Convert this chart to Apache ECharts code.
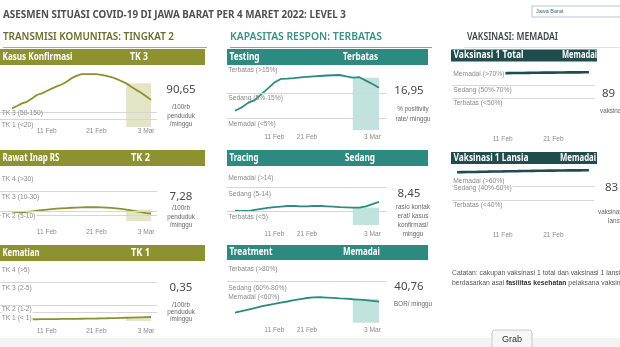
<!DOCTYPE html>
<html><head><meta charset="utf-8">
<script src="https://cdn.jsdelivr.net/npm/echarts@6/dist/echarts.min.js"></script>
<style>html,body{margin:0;padding:0;background:#fff}#c{width:620px;height:347px}</style>
</head><body><div id="c"></div>
<script>
// ================= DATA =================
const datesLeft = ['4 Feb','5 Feb','6 Feb','7 Feb','8 Feb','9 Feb','10 Feb','11 Feb','12 Feb','13 Feb','14 Feb','15 Feb','16 Feb','17 Feb','18 Feb','19 Feb','20 Feb','21 Feb','22 Feb','23 Feb','24 Feb','25 Feb','26 Feb','27 Feb','28 Feb','1 Mar','2 Mar','3 Mar','4 Mar'];
const datesMid = ['30 Jan','1 Feb','3 Feb','5 Feb','7 Feb','9 Feb','11 Feb','13 Feb','15 Feb','17 Feb','19 Feb','21 Feb','22 Feb','23 Feb','24 Feb','25 Feb','26 Feb','27 Feb','28 Feb','1 Mar','2 Mar','3 Mar','4 Mar'];
const datesRight = ['1 Feb','2 Feb','3 Feb','4 Feb','5 Feb','6 Feb','7 Feb','8 Feb','9 Feb','10 Feb','11 Feb','12 Feb','13 Feb','14 Feb','15 Feb','16 Feb','17 Feb','18 Feb','19 Feb','20 Feb','21 Feb','22 Feb','23 Feb','24 Feb','25 Feb','26 Feb','27 Feb','28 Feb','1 Mar'];
const tickLabels = ['11 Feb','21 Feb','3 Mar'];

const kasusKonfirmasi = [66,76,87,94,108,123,130,140,150,160,168,180,195,205,212,212,212,212,209,205,200,192,183,173,158,145,133,118,102];
const rawatInap = [7.4,8.0,8.5,9.0,9.6,10.2,10.8,11.3,11.8,12.3,12.7,13.0,13.3,13.5,13.7,13.8,13.8,13.8,13.7,13.5,13.2,12.7,12.1,11.4,10.5,9.6,8.7,7.8,7.3];
const kematian = [0.11,0.12,0.12,0.13,0.13,0.14,0.15,0.15,0.16,0.17,0.18,0.18,0.19,0.20,0.21,0.22,0.23,0.24,0.26,0.27,0.29,0.30,0.32,0.34,0.36,0.38,0.40,0.42,0.44];
const testing = [7.9,9.2,11.1,12.2,14.6,16.9,19.4,20.9,21.0,21.2,21.5,21.7,21.9,22.1,22.3,22.4,22.5,21.9,21.4,21.6,20.2,18.8,17.3];
const tracing = [5.1,5.0,5.0,5.4,5.8,6.2,6.5,6.7,6.9,6.9,6.8,6.8,6.9,6.9,6.8,6.7,6.5,6.4,6.3,6.3,6.8,7.6,8.5];
const treatment = [19.4,22.5,25.5,28.5,31.5,34.2,36.6,39.0,41.2,43.7,46.0,48.0,49.3,49.5,48.8,48.1,47.4,46.8,45.6,44.8,44.0,42.6,40.8];
const vaksinTotal = [null,86.4,86.5,86.7,86.8,86.9,87.1,87.2,87.3,87.4,87.6,87.7,87.8,87.9,88.0,88.1,88.2,88.3,88.4,88.5,88.5,88.6,88.7,88.8,88.8,88.9,89.0,89.0,null];
const vaksinLansia = [null,81.6,81.8,81.9,82.1,82.2,82.4,82.5,82.7,82.8,82.9,83.1,83.2,83.3,83.5,83.6,83.7,83.8,83.9,84.0,84.1,84.2,84.3,84.4,84.5,84.5,84.6,84.7,null];

const kasusLines = [50,20];
const kasusBands = [[50,'TK 3 (50-150)'],[20,'TK 1 (<20)']];
const rawatLines = [30,10,5];
const rawatBands = [[30,'TK 4 (>30)'],[30,'TK 3 (10-30)'],[10,'TK 2 (5-10)']];
const kematianLines = [5,2,1];
const kematianBands = [[5,'TK 4 (>5)'],[5,'TK 3 (2-5)'],[2,'TK 2 (1-2)'],[1,'TK 1 (< 1)']];
const testingLines = [15,5];
const testingBands = [[15,'Terbatas (>15%)'],[15,'Sedang (5%-15%)'],[5,'Memadai (<5%)']];
const tracingLines = [14,5];
const tracingBands = [[14,'Memadai (>14)'],[14,'Sedang (5-14)'],[5,'Terbatas (<5)']];
const treatmentLines = [80];
const treatmentBands = [[80,'Terbatas (>80%)'],[80,'Sedang (60%-80%)'],[60,'Memadai (<60%)']];
const totalLines = [70,50];
const totalBands = [[70,'Memadai (>70%)'],[70,'Sedang (50%-70%)'],[50,'Terbatas (<50%)']];
const lansiaLines = [60,40];
const lansiaBands = [[60,'Memadai (>60%)'],[60,'Sedang (40%-60%)'],[40,'Terbatas (<40%)']];

const panelTitles = ['Kasus Konfirmasi','Rawat Inap RS','Kematian','Testing','Tracing','Treatment','Vaksinasi 1 Total','Vaksinasi 1 Lansia'];
const panelStatus = ['TK 3','TK 2','TK 1','Terbatas','Sedang','Memadai','Memadai','Memadai'];
const latestValues = ['90,65','7,28','0,35','16,95','8,45','40,76','89','83'];
const valueUnits = [['/100rb','penduduk','/minggu'],['/100rb','penduduk','/minggu'],['/100rb','penduduk','/minggu'],['% positivity','rate/ minggu'],['rasio kontak','erat/ kasus','konfirmasi/','minggu'],['BOR/ minggu'],['vaksinasi'],['vaksinasi','lansia']];
const shadeStartLeft = '27 Feb';
const shadeStartMid = '28 Feb';

// ================= LAYOUT / STYLE =================
const OLIVE = '#8d912f', TEAL = '#2d8a80', DARK = '#1f4c4d';
const panels = [
  {dates:datesLeft, vals:kasusKonfirmasi, lines:kasusLines, bands:kasusBands, shade:shadeStartLeft,
   grid:[0,157,70,127], x:[-2.42,29.2], y:[-14,230], margin:0.3, dy:[1.5,6], bg:false, col:'L'},
  {dates:datesLeft, vals:rawatInap, lines:rawatLines, bands:rawatBands, shade:shadeStartLeft,
   grid:[0,157,170,221], x:[-2.42,29.2], y:[-0.5,52.6], margin:7.2, dy:[-12.7,5.8,5.6], bg:true, col:'L'},
  {dates:datesLeft, vals:kematian, lines:kematianLines, bands:kematianBands, shade:shadeStartLeft,
   grid:[0,157,265,321], x:[-2.42,29.2], y:[-0.09,7.3], margin:6.2, dy:[-12.3,5.4,4.3,5], bg:true, col:'L'},
  {dates:datesMid, vals:testing, lines:testingLines, bands:testingBands, shade:shadeStartMid,
   grid:[226.7,386.7,64,130], x:[-1.27,23.18], y:[0,27], margin:4, dy:[-23.3,5,6.3], bg:false, col:'M'},
  {dates:datesMid, vals:tracing, lines:tracingLines, bands:tracingBands, shade:shadeStartMid,
   grid:[226.7,386.7,172,225], x:[-1.27,23.18], y:[-0.3,19.8], margin:5.5, dy:[-9,6.6,5.7], bg:true, col:'M'},
  {dates:datesMid, vals:treatment, lines:treatmentLines, bands:treatmentBands, shade:shadeStartMid,
   grid:[226.7,386.7,263,322.7], x:[-1.27,23.18], y:[0,116], margin:4.2, dy:[-12.2,6.8,5.5], bg:false, col:'M'},
  {dates:datesRight, vals:vaksinTotal, lines:totalLines, bands:totalBands, shade:null,
   grid:[452,594,68,131.6], x:[0,28], y:[0,95.4], margin:4, dy:[-10.7,5,5], bg:true, col:'R'},
  {dates:datesRight, vals:vaksinLansia, lines:lansiaLines, bands:lansiaBands, shade:null,
   grid:[452,594,165,226.7], x:[0,28], y:[0,92.5], margin:5.2, dy:[-6,1.3,5], bg:true, col:'R'},
];
const colStyle = {
  L:{line:OLIVE, width:1.8, fill:'rgba(196,198,130,0.45)', labelX:1.7, bar:[0,205], valX:181, unitX:181},
  M:{line:TEAL, width:1.8, fill:'rgba(120,190,182,0.45)', labelX:228.3, bar:[227,428], valX:409, unitX:413},
  R:{line:DARK, width:2.6, fill:null, labelX:453.3, bar:[451,597], valX:602, unitX:600},
};
const barY = [[49,16],[150,16],[245,16],[49,16],[150,16],[245,15],[49.5,12],[152,12]];
const titleW = [70,57,37,30,29,43,70,75];
const statusX = [130,131,131,343,345,343,562,560];
const statusW = [18,19,19,35,30,37,35,36];
const valY = [90,197,288,91,194,287,94,188];
const unitY = [[107,116,124.5],[208,216.8,225],[305,312,319.5],[109.5,119],[207,216.5,225.5,234.5],[304],[111],[212,221]];

// ================= BUILD =================
const ctx = document.createElement('canvas').getContext('2d');
function T(text, x, y, o) {
  o = o || {};
  const size = o.size || 7, weight = o.weight || 'normal', family = o.family || 'Liberation Sans';
  ctx.font = weight + ' ' + size + 'px "' + family + '"';
  let sx = 1;
  if (o.w) sx = o.w / ctx.measureText(o.measure || text).width;
  const align = o.align || 'left';
  const st = {text, fontSize:size, fontWeight:weight, fontFamily:family, fill:o.color || '#555',
    align, textAlign:align, verticalAlign:'middle', textVerticalAlign:'middle'};
  if (o.bg) { st.backgroundColor = o.bg; st.padding = [0,1,0,0]; }
  if (o.rich) st.rich = o.rich;
  return {type:'text', x, y, scaleX:sx, z:o.z || 20, silent:true, style:st};
}

const grids = [], xAxes = [], yAxes = [], series = [];
panels.forEach((p, g) => {
  const cs = colStyle[p.col];
  grids.push({left:p.grid[0], top:p.grid[2], width:p.grid[1]-p.grid[0], height:p.grid[3]-p.grid[2]});
  const idx = tickLabels.map(t => p.dates.indexOf(t)).filter(i => i >= 0);
  xAxes.push({type:'value', gridIndex:g, min:p.x[0], max:p.x[1], splitLine:{show:false},
    axisLine:{show:false}, axisTick:{show:false},
    axisLabel:{customValues:idx, formatter:v => p.dates[Math.round(v)] || '', fontSize:6.6,
      fontFamily:'Liberation Sans', color:'#8a8a8a', margin:p.margin}});
  yAxes.push({type:'value', gridIndex:g, min:p.y[0], max:p.y[1], show:false});
  const data = p.dates.map((d, i) => [i, p.vals[i]]);
  const bg = {type:'line', xAxisIndex:g, yAxisIndex:g, data:data, silent:true, showSymbol:false,
    lineStyle:{opacity:0, width:0}, z:1,
    markLine:{silent:true, symbol:['none','none'], label:{show:false},
      lineStyle:{color:'#d6d6d6', width:1, type:'solid'},
      data:p.lines.map(v => ({yAxis:v}))}};
  if (p.shade && cs.fill) {
    const s = p.dates.indexOf(p.shade), last = p.dates.length - 1;
    bg.markArea = {silent:true, itemStyle:{color:cs.fill},
      data:[[{xAxis:s, yAxis:p.y[0]}, {xAxis:last, yAxis:p.vals[s]}]]};
  }
  series.push(bg);
  series.push({type:'line', xAxisIndex:g, yAxisIndex:g, data:data, showSymbol:false, silent:true,
    connectNulls:false, lineStyle:{color:cs.line, width:cs.width}, z:3});
});

const chart = echarts.init(document.getElementById('c'), null, {renderer:'canvas'});
chart.setOption({animation:false, grid:grids, xAxis:xAxes, yAxis:yAxes, series:series});

// ---- graphics ----
const G = [];
G.push({type:'rect', shape:{x:0,y:338,width:620,height:9}, style:{fill:'#f3f3f3'}, z:0, silent:true});
G.push(T('ASESMEN SITUASI COVID-19 DI JAWA BARAT PER 4 MARET 2022: LEVEL 3', 3, 15,
  {size:11, weight:'bold', family:'Noto Sans', color:'#505050', w:343}));
G.push({type:'rect', shape:{x:532,y:6,width:90,height:11}, style:{fill:'#fff', stroke:'#b8c3cb', lineWidth:1}, z:5, silent:true});
G.push(T('Jawa Barat', 536, 11.5, {size:5.5, color:'#3d6e8c'}));
G.push(T('TRANSMISI KOMUNITAS: TINGKAT 2', 3, 37, {size:10.5, weight:600, family:'Noto Sans', color:'#6f6b2e', w:171}));
G.push(T('KAPASITAS RESPON: TERBATAS', 230, 37, {size:10.5, weight:600, family:'Noto Sans', color:'#3b9088', w:152}));
G.push(T('VAKSINASI: MEMADAI', 467, 37, {size:10.5, weight:600, family:'Noto Sans', color:'#3d4848', w:91}));
G.push({type:'line', shape:{x1:3,y1:47.5,x2:207,y2:47.5}, style:{stroke:'#aeb066', lineWidth:1.2}, z:5, silent:true});
G.push({type:'line', shape:{x1:230,y1:47.5,x2:432,y2:47.5}, style:{stroke:'#6aaea7', lineWidth:1.2}, z:5, silent:true});
G.push({type:'line', shape:{x1:464,y1:47.5,x2:620,y2:47.5}, style:{stroke:'#e4e4e4', lineWidth:1}, z:5, silent:true});

panels.forEach((p, g) => {
  const cs = colStyle[p.col];
  const barColor = p.col === 'L' ? OLIVE : (p.col === 'M' ? TEAL : DARK);
  G.push({type:'rect', shape:{x:cs.bar[0], y:barY[g][0], width:cs.bar[1]-cs.bar[0], height:barY[g][1]},
    style:{fill:barColor}, z:5, silent:true});
  const cy = barY[g][0] + barY[g][1] / 2;
  G.push(T(panelTitles[g], cs.bar[0] + 2.5, cy, {size:10, weight:'bold', family:'Noto Sans', color:'#fff', w:titleW[g]}));
  G.push(T(panelStatus[g], statusX[g], cy, {size:10, weight:'bold', family:'Noto Sans', color:'#fff', w:statusW[g]}));
  // band labels placed through the axis scale
  p.bands.forEach((b, k) => {
    const py = chart.convertToPixel({gridIndex:g}, [p.x[0], b[0]])[1] + p.dy[k];
    G.push(T(b[1], cs.labelX, py, {size:6.7, color:'#8a8a8a', bg:p.bg ? '#fff' : null, z:10}));
  });
  if (p.col === 'R') {
    G.push(T(latestValues[g], cs.valX + (g === 7 ? 3 : 0), valY[g], {size:11.5, family:'Noto Sans', color:'#4a4a4a'}));
    valueUnits[g].forEach((u, k) => G.push(T(u, (k === 1 ? 608 : (g === 7 ? 598 : cs.unitX)), unitY[g][k], {size:6.3, color:'#666'})));
  } else {
    G.push(T(latestValues[g], cs.valX, valY[g], {size:11.5, family:'Noto Sans', color:'#4a4a4a', align:'center'}));
    valueUnits[g].forEach((u, k) => G.push(T(u, cs.unitX, unitY[g][k], {size:6.3, color:'#666', align:'center'})));
  }
});

G.push(T('Catatan: cakupan vaksinasi 1 total dan vaksinasi 1 lansia', 452, 273.5, {size:6.8, color:'#555'}));
G.push(T('berdasarkan asal {b|fasilitas kesehatan} pelaksana vaksinasi', 452, 283.5,
  {size:6.8, color:'#555', rich:{b:{fontWeight:'bold', fontSize:6.8, fontFamily:'Liberation Sans', fill:'#333'}}}));
G.push({type:'rect', shape:{x:492,y:330,width:40,height:20,r:3}, style:{fill:'#f6f6f6', stroke:'#c9c9c9', lineWidth:1}, z:5, silent:true});
G.push(T('Grab', 512, 340, {size:9, color:'#333', align:'center'}));

chart.setOption({graphic:{elements:G}});
</script>
</body></html>
